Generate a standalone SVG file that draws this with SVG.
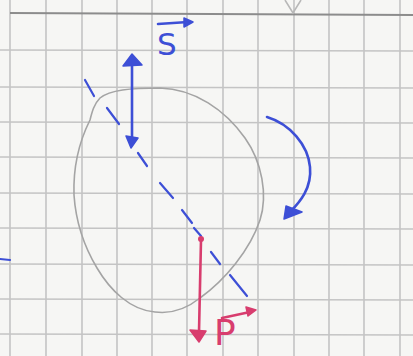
<svg xmlns="http://www.w3.org/2000/svg" width="413" height="356" viewBox="0 0 413 356">
<style>
.grid line{stroke:#c4c4c4;stroke-width:1.6}
.blue{stroke:#3d4fd6;fill:none;stroke-width:2.6;stroke-linecap:round}
.bluef{fill:#3d4fd6;stroke:#3d4fd6;stroke-width:1.5;stroke-linejoin:round}
.red{stroke:#d83d6e;fill:none;stroke-width:2.6;stroke-linecap:round}
.redf{fill:#d83d6e;stroke:#d83d6e;stroke-width:1.5;stroke-linejoin:round}
.lbl{font-family:"DejaVu Sans",sans-serif}
</style>
<rect width="413" height="356" fill="#f6f6f4"/>
<g id="grid" class="grid">
<line x1="10" y1="0" x2="10" y2="356"/><line x1="46" y1="0" x2="46" y2="356"/><line x1="82" y1="0" x2="82" y2="356"/><line x1="117" y1="0" x2="117" y2="356"/><line x1="152" y1="0" x2="152" y2="356"/><line x1="187" y1="0" x2="187" y2="356"/><line x1="223" y1="0" x2="223" y2="356"/><line x1="258" y1="0" x2="258" y2="356"/><line x1="294" y1="0" x2="294" y2="356"/><line x1="329" y1="0" x2="329" y2="356"/><line x1="364" y1="0" x2="364" y2="356"/><line x1="400" y1="0" x2="400" y2="356"/>
<line x1="0" y1="50" x2="413" y2="51"/><line x1="0" y1="87" x2="413" y2="88"/><line x1="0" y1="122" x2="413" y2="123"/><line x1="0" y1="157" x2="413" y2="158"/><line x1="0" y1="193" x2="413" y2="194"/><line x1="0" y1="228" x2="413" y2="229"/><line x1="0" y1="264" x2="413" y2="265"/><line x1="0" y1="299" x2="413" y2="300"/><line x1="0" y1="334" x2="413" y2="335"/>
<line x1="10" y1="13" x2="413" y2="15" style="stroke:#8c8c8c;stroke-width:2"/>
<path d="M285,0 L293,13 L301,0" fill="none" stroke="#b8b8b8" stroke-width="1.6"/>
</g>
<g id="body">
<path d="M100,98 C110,90 130,88 160,88 C195,89 225,110 245,138 C262,162 268,195 260,220 C250,250 225,280 200,298 C185,310 170,314 155,312 C130,310 110,290 97,268 C85,248 76,225 74,195 C73,165 80,140 90,120 C92,112 94,104 100,98 Z" fill="none" stroke="#a4a4a4" stroke-width="1.6"/>
</g>
<g id="connectors">
<g id="axis" class="blue" style="stroke-width:2.2">
<line x1="85" y1="80" x2="94" y2="96"/><line x1="107" y1="108" x2="119" y2="124"/><line x1="138" y1="153" x2="147" y2="166"/><line x1="160" y1="183" x2="173" y2="198"/><line x1="182" y1="210" x2="192" y2="223"/><line x1="194" y1="228" x2="201" y2="236"/><line x1="211" y1="252" x2="220" y2="264"/><line x1="230" y1="275" x2="247" y2="296"/>
<line x1="0" y1="259" x2="10" y2="260"/>
</g>
<g id="vecS">
<line class="blue" x1="132" y1="142" x2="132" y2="60"/>
<polygon class="bluef" points="132,54 123,66 142,65"/>
<polygon class="bluef" points="126,136 138,138 131,148"/>
</g>
<g id="vecP">
<line class="red" x1="201" y1="240" x2="199" y2="332"/>
<circle cx="201" cy="239" r="3" fill="#d83d6e"/>
<polygon class="redf" points="190,330 206,331 199,342"/>
</g>
<g id="moment">
<path class="blue" d="M267,117 C290,124 308,145 310,167 C312,188 300,202 290,212"/>
<polygon class="bluef" points="284,219 286,206 302,212"/>
</g>
</g>
<g id="labelS">
<text class="lbl" x="157" y="55" font-size="31" fill="#3d4fd6">S</text>
<line class="blue" x1="158" y1="24" x2="188" y2="22"/>
<polygon class="bluef" points="184,18 193,22 184,27"/>
</g>
<g id="labelP">
<text class="lbl" x="214" y="345" font-size="36" fill="#d83d6e">P</text>
<line class="red" x1="222" y1="318" x2="250" y2="312"/>
<polygon class="redf" points="246,307 256,310 248,316"/>
</g>
</svg>
